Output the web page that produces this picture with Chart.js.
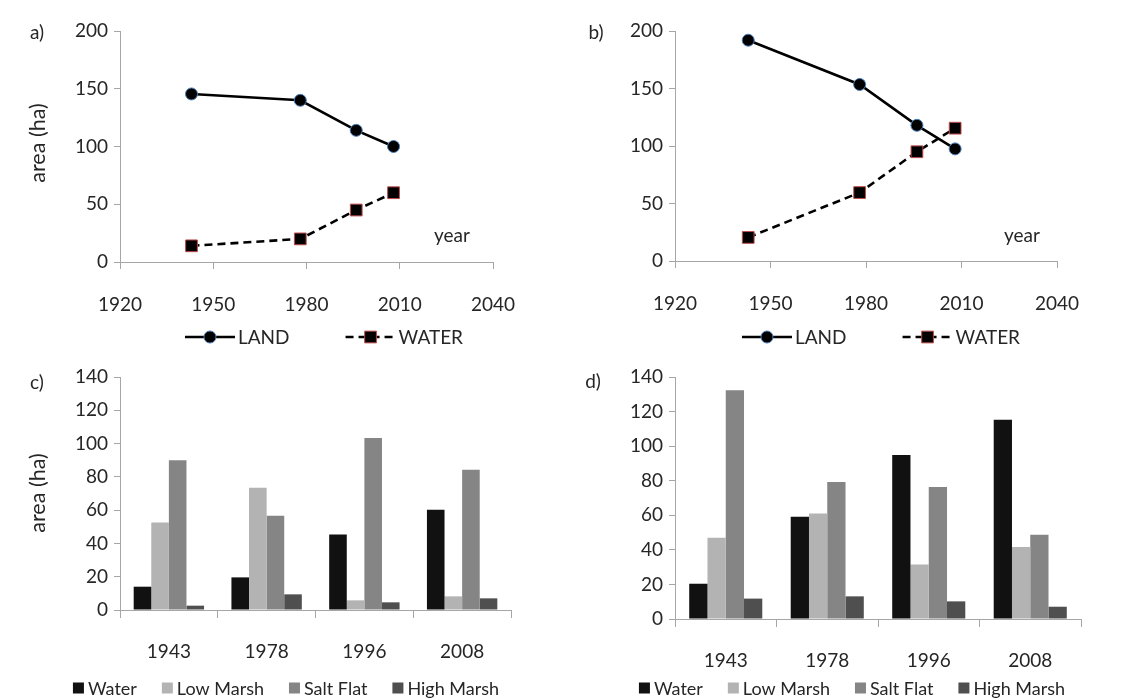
<!DOCTYPE html>
<html>
<head>
<meta charset="utf-8">
<script src="https://cdn.jsdelivr.net/npm/chart.js@4/dist/chart.umd.min.js"></script>
<style>
  html,body{margin:0;padding:0;background:#fff;}
  #wrap{position:relative;width:1134px;height:700px;background:#fff;}
  canvas{position:absolute;}
</style>
</head>
<body>
<div id="wrap">
  <canvas id="ca" width="570" height="350" style="left:0;top:0"></canvas>
  <canvas id="cb" width="564" height="350" style="left:570px;top:0"></canvas>
  <canvas id="cc" width="570" height="350" style="left:0;top:350px"></canvas>
  <canvas id="cd" width="564" height="350" style="left:570px;top:350px"></canvas>
</div>
<script>
// ---- data ----
const years = [1943, 1978, 1996, 2008];
const landA = [145.5, 140, 114, 100];
const waterA = [14, 20, 45, 60];
const landB = [192, 153.5, 118, 97.5];
const waterB = [20.5, 59.5, 95, 115.5];

const barCats = ['1943', '1978', '1996', '2008'];
const waterC = [14, 19.6, 45.4, 60.2];
const lowC = [52.6, 73.4, 5.8, 8.2];
const saltC = [90, 56.6, 103.4, 84.2];
const highC = [2.6, 9.4, 4.6, 7];
const waterD = [20.4, 59.2, 94.9, 115.3];
const lowD = [47, 61.1, 31.6, 41.6];
const saltD = [132.3, 79.3, 76.4, 48.8];
const highD = [11.8, 13.1, 10.2, 7.1];

const lineTicksX = [1920, 1950, 1980, 2010, 2040];

// ---- styles ----
const FONT = 'Lato, "Open Sans", sans-serif';
const TXT = '#262626';
const AX = '#a6a6a6';
const COL = { water: '#111111', low: '#b3b3b3', salt: '#858585', high: '#4f4f4f' };

const annot = {
  id: 'annot',
  afterDraw(chart, args, o) {
    const ctx = chart.ctx;
    ctx.save();
    ctx.fillStyle = TXT;
    ctx.textBaseline = 'middle';
    (o.texts || []).forEach(t => {
      ctx.save();
      ctx.font = (t.size || 19) + 'px ' + FONT;
      ctx.translate(t.x, t.y);
      if (t.rot) ctx.rotate(t.rot);
      ctx.textAlign = t.align || 'center';
      ctx.fillText(t.text, 0, 0);
      ctx.restore();
    });
    if (o.legend) {
      const L = o.legend;
      ctx.font = L.size + 'px ' + FONT;
      ctx.textAlign = 'left';
      const ds = chart.data.datasets;
      const items = ds.map(d => {
        const tw = ctx.measureText(d.label).width;
        const sw = L.type === 'line' ? L.lineLen : L.box;
        return { d, tw, sw, w: sw + L.gapText + tw };
      });
      const total = items.reduce((a, it) => a + it.w, 0) + L.gapItem * (items.length - 1);
      let x = L.cx - total / 2;
      const y = L.y;
      items.forEach(it => {
        const d = it.d;
        if (L.type === 'line') {
          ctx.save();
          ctx.strokeStyle = d.borderColor;
          ctx.lineWidth = d.borderWidth;
          ctx.setLineDash(d.borderDash || []);
          ctx.beginPath(); ctx.moveTo(x, y); ctx.lineTo(x + L.lineLen, y); ctx.stroke();
          ctx.setLineDash([]);
          const mx = x + L.lineLen / 2, r = d.pointRadius;
          ctx.fillStyle = d.pointBackgroundColor;
          ctx.strokeStyle = d.pointBorderColor;
          ctx.lineWidth = 1;
          ctx.beginPath();
          if (d.pointStyle === 'rect') { const h = r * Math.SQRT1_2; ctx.rect(mx - h, y - h, 2 * h, 2 * h); }
          else ctx.arc(mx, y, r, 0, Math.PI * 2);
          ctx.fill(); ctx.stroke();
          ctx.restore();
        } else {
          ctx.fillStyle = d.backgroundColor;
          ctx.fillRect(x, y - L.box / 2, L.box, L.box);
        }
        ctx.fillStyle = TXT;
        ctx.fillText(d.label, x + it.sw + L.gapText, y + 1);
        x += it.w + L.gapItem;
      });
    }
    ctx.restore();
  }
};

function axisCommon() {
  return {
    border: { display: true, color: AX, width: 1 },
    grid: { display: true, drawOnChartArea: false, drawTicks: true, color: AX, tickLength: 7 },
    ticks: { color: TXT, font: { family: FONT, size: 19 } }
  };
}

function lineChart(id, land, water, geo, texts) {
  const el = document.getElementById(id);
  const W = el.width, H = el.height;
  const x = axisCommon();
  x.type = 'linear'; x.min = 1920; x.max = 2040;
  x.ticks.stepSize = 30; x.ticks.padding = 24;
  x.afterBuildTicks = s => { s.ticks = lineTicksX.map(v => ({ value: v })); };
  x.ticks.callback = v => String(v);
  x.afterFit = s => { s.height = H - geo.bottom; };
  const y = axisCommon();
  y.min = 0; y.max = 200; y.ticks.stepSize = 50; y.ticks.padding = 6;
  y.grid.tickLength = 6;
  y.afterFit = s => { s.width = geo.left; };
  return new Chart(el, {
    type: 'line',
    data: {
      datasets: [
        { label: 'LAND', data: years.map((yr, i) => ({ x: yr, y: land[i] })),
          borderColor: '#000', borderWidth: 2.6, pointStyle: 'circle', pointRadius: 6,
          pointBackgroundColor: '#000', pointBorderColor: '#4a7ebb', pointBorderWidth: 1, fill: false, tension: 0 },
        { label: 'WATER', data: years.map((yr, i) => ({ x: yr, y: water[i] })),
          borderColor: '#000', borderWidth: 2.6, borderDash: [8, 5], pointStyle: 'rect', pointRadius: 8.3,
          pointBackgroundColor: '#000', pointBorderColor: '#be4b48', pointBorderWidth: 1, fill: false, tension: 0 }
      ]
    },
    options: {
      responsive: false, animation: false,
      layout: { padding: { left: 0, top: geo.top, right: W - geo.right, bottom: 0 } },
      scales: { x, y },
      plugins: {
        legend: { display: false }, tooltip: { enabled: false },
        annot: { texts, legend: { type: 'line', cx: geo.legCx, y: geo.legY, size: 19, lineLen: 50, gapText: 3, gapItem: 56 } }
      }
    },
    plugins: [annot]
  });
}

function barChart(id, w, l, s, h, geo, texts) {
  const el = document.getElementById(id);
  const W = el.width, H = el.height;
  const x = axisCommon();
  x.grid.offset = true; x.grid.tickLength = 8;
  x.ticks.padding = geo.xpad;
  x.afterFit = sc => { sc.height = H - geo.bottom; };
  const y = axisCommon();
  y.min = 0; y.max = 140; y.ticks.stepSize = 20; y.ticks.padding = 6; y.grid.tickLength = 6;
  y.afterFit = sc => { sc.width = geo.left; };
  const mk = (label, data, c) => ({ label, data, backgroundColor: c, borderColor: c, borderWidth: 0,
    categoryPercentage: 0.72, barPercentage: 1.0 });
  return new Chart(el, {
    type: 'bar',
    data: {
      labels: barCats,
      datasets: [mk('Water', w, COL.water), mk('Low Marsh', l, COL.low), mk('Salt Flat', s, COL.salt), mk('High Marsh', h, COL.high)]
    },
    options: {
      responsive: false, animation: false,
      layout: { padding: { left: 0, top: geo.top, right: W - geo.right, bottom: 0 } },
      scales: { x, y },
      plugins: {
        legend: { display: false }, tooltip: { enabled: false },
        annot: { texts, legend: { type: 'bar', cx: geo.legCx, y: geo.legY, size: 18, box: 11, gapText: 4, gapItem: 25 } }
      }
    },
    plugins: [annot]
  });
}

lineChart('ca', landA, waterA,
  { left: 120, right: 493, top: 31, bottom: 262, legCx: 324, legY: 337 },
  [ { text: 'a)', x: 37, y: 33 },
    { text: 'area (ha)', x: 38, y: 143, rot: -Math.PI / 2, size: 21.5 },
    { text: 'year', x: 452, y: 236 } ]);

lineChart('cb', landB, waterB,
  { left: 105, right: 487, top: 31, bottom: 261, legCx: 311, legY: 337 },
  [ { text: 'b)', x: 26, y: 33 },
    { text: 'year', x: 452, y: 236 } ]);

barChart('cc', waterC, lowC, saltC, highC,
  { left: 120, right: 511, top: 27, bottom: 260, xpad: 22, legCx: 286, legY: 338 },
  [ { text: 'c)', x: 37, y: 33 },
    { text: 'area (ha)', x: 38, y: 143, rot: -Math.PI / 2, size: 21.5 } ]);

barChart('cd', waterD, lowD, saltD, highD,
  { left: 105, right: 511, top: 27, bottom: 269, xpad: 22, legCx: 282, legY: 338 },
  [ { text: 'd)', x: 23, y: 32 } ]);
</script>
</body>
</html>
